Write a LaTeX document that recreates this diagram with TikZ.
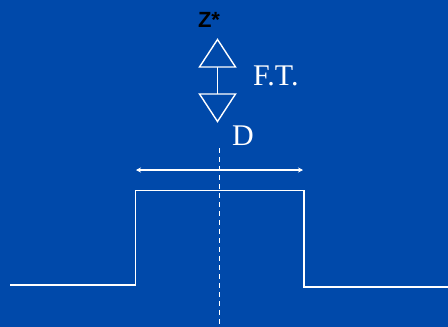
\documentclass[tikz,border=0pt]{standalone}
\usepackage{fontspec}
\setmainfont{Liberation Serif}
\newfontfamily\arialfont{Liberation Sans}
\usetikzlibrary{arrows.meta,positioning,calc}
\definecolor{slideblue}{RGB}{0,73,170}
\tikzset{
  wire/.style={draw=white, line width=1.4pt},
  serifbig/.style={text=white, inner sep=0pt, font=\fontsize{30}{30}\selectfont},
}
\begin{document}
\begin{tikzpicture}[x=1pt,y=-1pt]
% Background
\fill[slideblue] (0,0) rectangle (448,327);
\useasboundingbox (0,0) rectangle (448,327);
% Label above the arrows
\node[font={\fontsize{22}{22}\selectfont\arialfont\bfseries}, inner sep=0pt, anchor=base] (zstar) at (209,27) {Z*};
% Transform arrows (two open triangles on a stem)
\coordinate (upbase) at (217.5,67);
\coordinate (downbase) at (217.5,94);
\draw[wire, line join=miter] (upbase) ++(-18,0) -- (217.5,39.5) -- ++(18,27.5) -- cycle;
\draw[wire, line join=miter] (downbase) ++(-18,0) -- (217.5,121.5) -- ++(18,-27.5) -- cycle;
\draw[wire] (upbase) -- (downbase);
\node[serifbig, anchor=base west] (ft) at (253,85) {F.T.};
\node[serifbig, anchor=base west] (dlab) at (232,145) {D};
% Axis of symmetry
\coordinate (axtop) at (219.5,148);
\coordinate (axbot) at (219.5,327);
\draw[white, line width=1.3pt, dash pattern=on 5pt off 4pt] (axtop) -- (axbot);
% Width arrow
\coordinate (wl) at (136,170);
\coordinate (wr) at (303,170);
\draw[wire, line width=1.1pt, {Stealth[length=5pt,width=5pt]}-{Stealth[length=5pt,width=5pt]}] (wl) -- (wr);
% Rectangular pulse
\draw[wire, line join=miter] (10,285) -- (135.5,285) -- (135.5,190.5) -- (304,190.5) -- (304,287) -- (448,287);
\end{tikzpicture}
\end{document}
